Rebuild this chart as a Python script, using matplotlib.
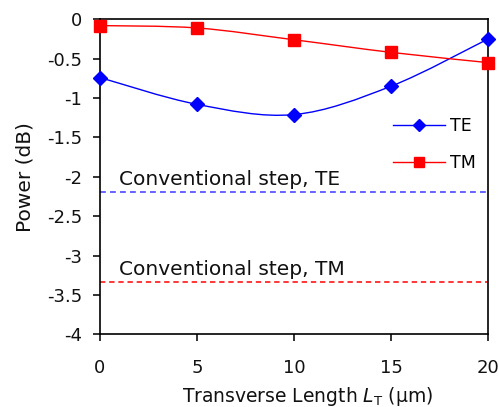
import numpy as np
import matplotlib.pyplot as plt
from matplotlib.path import Path
from matplotlib.patches import PathPatch

plt.rcParams['font.family'] = ['DejaVu Sans']
plt.rcParams['mathtext.fontset'] = 'dejavusans'

lengths = [0, 5, 10, 15, 20]
te_power = [-0.74, -1.08, -1.21, -0.85, -0.25]
tm_power = [-0.08, -0.11, -0.26, -0.42, -0.55]
conv_te = -2.19
conv_tm = -3.33
ytick_vals = [-4, -3.5, -3, -2.5, -2, -1.5, -1, -0.5, 0]
ytick_text = ['-4', '-3.5', '-3', '-2.5', '-2', '-1.5', '-1', '-0.5', '0']


def smooth_path(x, y, tension=0.5):
    # cardinal spline through the points, drawn as cubic bezier segments
    pts = np.column_stack([np.asarray(x, float), np.asarray(y, float)])
    verts = [pts[0]]
    codes = [Path.MOVETO]
    n = len(pts)
    for i in range(n - 1):
        p0 = pts[i - 1] if i > 0 else pts[i]
        p1 = pts[i]
        p2 = pts[i + 1]
        p3 = pts[i + 2] if i + 2 < n else pts[i + 1]
        verts += [p1 + (p2 - p0) * tension / 3, p2 - (p3 - p1) * tension / 3, p2]
        codes += [Path.CURVE4] * 3
    return Path(verts, codes)


fig = plt.figure(figsize=(4.99, 4.07), dpi=100)
ax = fig.add_axes([0.2004, 0.1786, 0.7776, 0.774])

ax.add_patch(PathPatch(smooth_path(lengths, te_power), fill=False, edgecolor='#0000ff', lw=1.0))
ax.add_patch(PathPatch(smooth_path(lengths, tm_power), fill=False, edgecolor='#ff0000', lw=1.0))
ax.plot(lengths, te_power, linestyle='none', marker='D', color='#0000ff', ms=7.5, clip_on=False, zorder=4)
ax.plot(lengths, tm_power, linestyle='none', marker='s', color='#ff0000', ms=8, clip_on=False, zorder=4)

# legend handles
ax.plot([], [], '-D', color='#0000ff', ms=6.5, lw=1.0, label='TE')
ax.plot([], [], '-s', color='#ff0000', ms=7, lw=1.0, label='TM')

ax.axhline(conv_te, color='#4a4aff', ls=(0, (3.5, 2.5)), lw=1.2)
ax.axhline(conv_tm, color='#ff0000', ls=(0, (3.5, 2.5)), lw=1.1)
ax.text(1.0, conv_te + 0.03, 'Conventional step, TE', fontsize=14.5, va='bottom', ha='left', color='#111111')
ax.text(1.0, conv_tm + 0.03, 'Conventional step, TM', fontsize=14.5, va='bottom', ha='left', color='#111111')

ax.set_xlim(0, 20)
ax.set_ylim(-4, 0)
ax.set_xticks(lengths)
ax.set_yticks(ytick_vals)
ax.set_yticklabels(ytick_text)
ax.tick_params(direction='out', length=5, width=1.2, labelsize=13, pad=8, colors='#111111')
ax.tick_params(axis='x', pad=13)
for s in ax.spines.values():
    s.set_linewidth(1.2)

ax.set_xlabel(r'Transverse Length $L_\mathrm{T}$ (μm)', fontsize=13.5, color='#111111')
ax.set_ylabel('Power (dB)', fontsize=14.5, color='#111111')
ax.xaxis.set_label_coords(0.535, -0.16)
ax.yaxis.set_label_coords(-0.17, 0.5)

ax.legend(loc='upper left', bbox_to_anchor=(0.755, 0.69), frameon=False, fontsize=12.5,
          handlelength=3, handletextpad=0.3, labelspacing=1.1, borderpad=0, borderaxespad=0)

fig.savefig('out.png', dpi=100)
